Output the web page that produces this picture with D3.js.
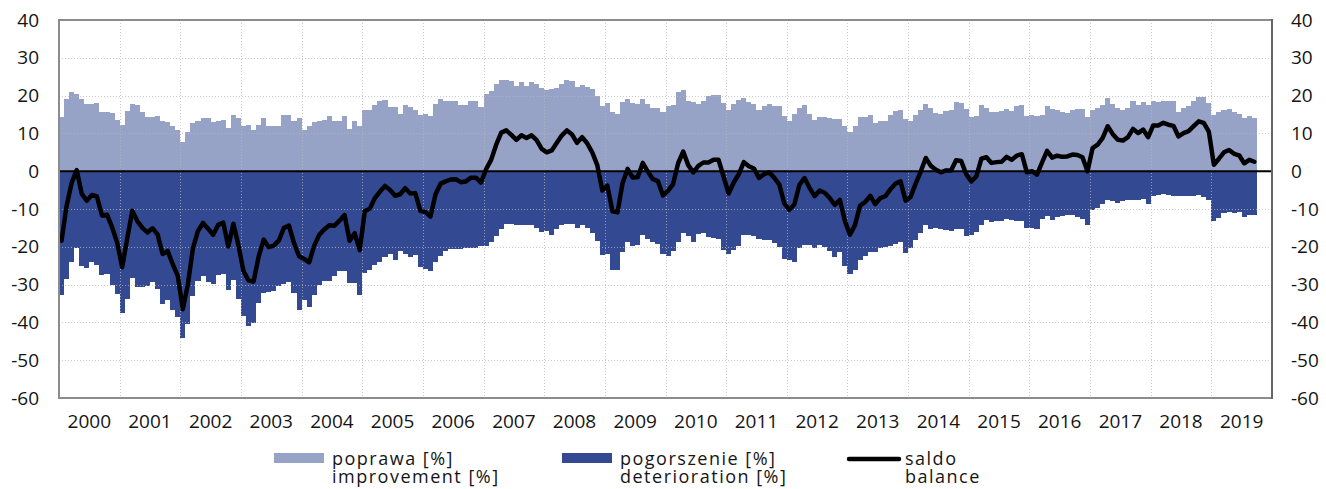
<!DOCTYPE html>
<html>
<head>
<meta charset="utf-8">
<script src="https://cdn.jsdelivr.net/npm/d3@7"></script>
<style>
  body { margin: 0; background: #fff; }
  text { font-family: 'Open Sans', sans-serif; fill: #151515; }
</style>
</head>
<body>
<div id="chart"></div>
<script>
// monthly survey, Jan 2000 - Sep 2019
var improvement = [
  14.3, 19.2, 20.9, 20.5, 19.2, 17.8, 17.8, 18.0, 15.7, 15.7, 15.4, 13.6,
  12.1, 16.0, 17.8, 17.4, 15.6, 14.3, 14.3, 14.5, 13.2, 12.9, 12.0, 11.0,
  7.6, 10.5, 12.7, 13.2, 14.1, 14.1, 13.0, 13.2, 13.6, 11.4, 14.8, 14.1,
  12.0, 12.1, 11.0, 12.3, 14.1, 11.9, 11.9, 12.0, 14.8, 14.8, 13.2, 14.1,
  10.8, 11.9, 13.0, 13.4, 13.6, 14.7, 13.2, 13.2, 14.7, 11.2, 13.2, 11.9,
  16.3, 16.3, 17.6, 18.5, 18.9, 16.9, 16.9, 15.1, 17.4, 16.9, 16.3, 14.9,
  15.1, 14.5, 17.8, 19.2, 18.5, 18.5, 18.5, 17.6, 17.6, 18.5, 18.5, 16.9,
  20.4, 21.3, 23.1, 24.2, 24.2, 23.9, 22.6, 23.6, 22.6, 23.6, 23.1, 22.0,
  21.6, 21.7, 22.0, 23.1, 24.2, 23.8, 22.3, 22.9, 22.4, 21.7, 20.0, 17.2,
  18.0, 15.6, 15.2, 18.3, 19.2, 18.0, 17.8, 19.2, 17.8, 16.7, 16.7, 15.6,
  17.2, 17.6, 20.9, 21.6, 18.7, 18.3, 17.9, 18.7, 19.8, 20.2, 20.2, 18.0,
  16.1, 17.8, 18.9, 19.4, 18.3, 17.9, 16.1, 17.3, 17.8, 17.3, 17.2, 14.7,
  13.2, 15.2, 16.7, 17.6, 15.2, 13.6, 14.3, 14.3, 14.1, 13.8, 13.8, 12.0,
  10.4, 11.9, 14.3, 14.3, 14.9, 12.7, 13.2, 13.4, 14.9, 16.0, 16.1, 13.8,
  13.4, 14.8, 16.3, 17.8, 16.7, 15.4, 15.1, 15.8, 16.1, 18.3, 18.0, 16.4,
  14.3, 14.7, 17.6, 16.7, 15.7, 15.7, 15.8, 16.4, 15.8, 17.2, 17.6, 14.7,
  15.0, 14.5, 15.0, 17.2, 16.4, 16.3, 15.6, 15.4, 16.1, 16.4, 16.4, 14.3,
  16.3, 16.7, 17.4, 19.4, 17.8, 16.7, 16.1, 16.7, 18.7, 17.6, 18.3, 17.6,
  18.7, 18.3, 18.7, 18.5, 18.5, 15.7, 16.7, 17.2, 18.5, 19.6, 19.6, 18.0,
  14.8, 15.7, 16.1, 16.5, 15.7, 15.1, 14.1, 14.5, 14.2
];

var deterioration = [
  -32.7, -28.4, -24.0, -20.2, -25.2, -25.6, -24.1, -24.7, -27.4, -27.2, -30.2, -32.5,
  -37.5, -33.8, -28.3, -30.6, -30.6, -30.5, -29.4, -31.2, -35.1, -34.0, -36.6, -38.7,
  -44.1, -40.4, -33.1, -29.0, -27.8, -29.3, -29.8, -27.4, -27.2, -31.3, -28.7, -33.7,
  -38.4, -41.0, -40.2, -34.9, -32.2, -32.0, -31.6, -30.3, -29.8, -29.2, -32.2, -36.6,
  -34.0, -36.0, -32.7, -30.2, -29.0, -29.0, -27.6, -26.3, -26.3, -29.6, -29.6, -32.8,
  -26.9, -26.2, -24.7, -23.9, -22.8, -21.9, -23.4, -21.2, -21.9, -22.8, -22.1, -25.4,
  -25.9, -26.5, -23.9, -22.5, -21.2, -20.7, -20.6, -20.5, -20.3, -20.2, -20.2, -19.9,
  -19.9, -18.8, -17.2, -15.3, -14.0, -14.0, -14.3, -14.3, -14.2, -14.2, -15.0, -16.1,
  -15.9, -17.0, -15.2, -14.3, -13.9, -14.1, -15.1, -14.2, -15.0, -16.4, -18.4, -22.3,
  -21.8, -26.2, -26.1, -21.5, -18.6, -19.7, -19.4, -17.0, -17.9, -18.8, -19.3, -22.0,
  -22.4, -21.0, -18.8, -16.4, -17.1, -18.6, -16.5, -16.4, -17.5, -17.7, -17.9, -20.8,
  -22.0, -20.8, -19.7, -17.0, -17.0, -17.2, -17.9, -18.1, -18.1, -19.0, -20.0, -23.2,
  -23.4, -24.0, -20.3, -19.4, -19.6, -20.2, -19.4, -20.0, -21.2, -22.7, -21.4, -25.2,
  -27.2, -26.1, -23.4, -22.5, -21.4, -21.4, -20.3, -20.0, -19.7, -19.3, -18.8, -21.6,
  -20.2, -18.1, -16.4, -14.3, -15.3, -15.0, -15.4, -15.6, -15.9, -15.4, -15.3, -17.2,
  -17.0, -16.1, -14.3, -13.0, -13.5, -13.3, -13.3, -12.6, -12.8, -13.1, -13.1, -15.0,
  -15.0, -15.4, -12.7, -11.8, -12.8, -12.2, -11.8, -11.5, -11.7, -12.1, -12.7, -14.3,
  -10.2, -9.7, -8.6, -7.5, -8.0, -8.4, -8.0, -7.7, -7.5, -7.5, -7.3, -8.6,
  -6.6, -6.2, -5.9, -6.2, -6.5, -6.5, -6.6, -6.6, -6.6, -6.4, -6.8, -7.5,
  -13.1, -12.4, -11.1, -10.9, -11.1, -10.9, -12.0, -11.5, -11.7
];

var balance = [
  -18.4, -9.2, -3.1, 0.3, -6.0, -7.8, -6.3, -6.7, -11.7, -11.5, -14.8, -18.9,
  -25.4, -17.8, -10.5, -13.2, -15.0, -16.2, -15.1, -16.7, -21.9, -21.1, -24.6, -27.7,
  -36.5, -29.9, -20.4, -15.8, -13.7, -15.2, -16.8, -14.2, -13.6, -19.9, -13.9, -19.6,
  -26.4, -28.9, -29.2, -22.6, -18.1, -20.1, -19.7, -18.3, -15.0, -14.4, -19.0, -22.5,
  -23.2, -24.1, -19.7, -16.8, -15.4, -14.3, -14.4, -13.1, -11.6, -18.4, -16.4, -20.9,
  -10.6, -9.9, -7.1, -5.4, -3.9, -5.0, -6.5, -6.1, -4.5, -5.9, -5.8, -10.5,
  -10.8, -12.0, -6.1, -3.3, -2.7, -2.2, -2.1, -2.9, -2.7, -1.7, -1.7, -3.0,
  0.5, 3.0, 7.0, 10.2, 10.8, 9.6, 8.3, 9.5, 8.8, 9.5, 8.2, 5.9,
  5.0, 5.5, 7.5, 9.5, 10.8, 9.7, 7.5, 9.0, 7.4, 5.0, 1.6, -5.1,
  -3.8, -10.6, -10.9, -3.2, 0.6, -1.7, -1.6, 2.2, -0.1, -2.1, -2.6, -6.4,
  -5.2, -3.4, 2.1, 5.2, 1.6, -0.3, 1.4, 2.3, 2.3, 3.0, 3.0, -1.5,
  -5.9, -3.0, -0.8, 2.4, 1.3, 0.7, -1.8, -0.8, -0.3, -1.7, -3.5, -8.5,
  -10.2, -8.8, -3.6, -1.8, -4.4, -6.6, -5.1, -5.7, -7.1, -8.9, -7.6, -13.2,
  -16.8, -14.2, -9.1, -8.2, -6.5, -8.7, -7.1, -6.6, -4.8, -3.3, -2.7, -7.8,
  -6.8, -3.3, -0.1, 3.5, 1.4, 0.4, -0.3, 0.2, 0.2, 2.9, 2.7, -0.8,
  -2.7, -1.4, 3.3, 3.7, 2.2, 2.4, 2.5, 3.8, 3.0, 4.1, 4.5, -0.3,
  0.0, -0.9, 2.3, 5.4, 3.6, 4.1, 3.8, 3.9, 4.4, 4.3, 3.7, 0.0,
  6.1, 7.0, 8.8, 11.9, 9.8, 8.3, 8.1, 9.0, 11.2, 10.1, 11.0, 9.0,
  12.1, 12.1, 12.8, 12.3, 12.0, 9.2, 10.1, 10.6, 11.9, 13.2, 12.8, 10.5,
  1.7, 3.3, 5.0, 5.6, 4.6, 4.2, 2.1, 3.0, 2.5
];

var years = d3.range(2000, 2020);
var yTicks = [40, 30, 20, 10, 0, -10, -20, -30, -40, -50, -60];
var legendItems = [
  { pl: 'poprawa [%]', en: 'improvement [%]', kind: 'light' },
  { pl: 'pogorszenie [%]', en: 'deterioration [%]', kind: 'dark' },
  { pl: 'saldo', en: 'balance', kind: 'line' }
];

var svgWidth = 1326;
var svgHeight = 489;
var plot = { left: 59, right: 1272, top: 20, bottom: 398 };
var lightBlue = '#97a2c7';
var darkBlue = '#334a93';

var svg = d3.select('#chart')
  .append('svg')
  .attr('width', svgWidth)
  .attr('height', svgHeight);

// x is months since Jan 2000, 20 full years on the axis
var xScale = d3.scaleLinear().domain([0, years.length * 12]).range([plot.left, plot.right]);
var yScale = d3.scaleLinear().domain([-60, 40]).range([plot.bottom, plot.top]);

var months = d3.range(improvement.length);

// bars, snapped to whole pixels so neighbours touch without seams
var barX = d => Math.round(xScale(d));
var barW = d => Math.round(xScale(d + 1)) - Math.round(xScale(d));

svg.append('g').attr('shape-rendering', 'crispEdges').selectAll('rect')
  .data(months)
  .enter()
  .append('rect')
  .attr('x', barX)
  .attr('width', barW)
  .attr('y', d => yScale(improvement[d]))
  .attr('height', d => yScale(0) - yScale(improvement[d]))
  .attr('fill', lightBlue);

svg.append('g').attr('shape-rendering', 'crispEdges').selectAll('rect')
  .data(months)
  .enter()
  .append('rect')
  .attr('x', barX)
  .attr('width', barW)
  .attr('y', yScale(0))
  .attr('height', d => yScale(deterioration[d]) - yScale(0))
  .attr('fill', darkBlue);

// dotted grid on top of the bars
var grid = svg.append('g')
  .attr('stroke', '#b8b8b8')
  .attr('stroke-opacity', 0.75)
  .attr('stroke-width', 1)
  .attr('stroke-dasharray', '1,2');

grid.selectAll('.hgrid')
  .data(yTicks.filter(t => t !== 40 && t !== -60 && t !== 0))
  .enter()
  .append('line')
  .attr('x1', plot.left)
  .attr('x2', plot.right)
  .attr('y1', d => Math.round(yScale(d)) + 0.5)
  .attr('y2', d => Math.round(yScale(d)) + 0.5);

grid.selectAll('.vgrid')
  .data(years.slice(1))
  .enter()
  .append('line')
  .attr('x1', d => Math.round(xScale((d - 2000) * 12)) + 0.5)
  .attr('x2', d => Math.round(xScale((d - 2000) * 12)) + 0.5)
  .attr('y1', plot.top)
  .attr('y2', plot.bottom);

// zero line
svg.append('line')
  .attr('x1', plot.left)
  .attr('x2', plot.right)
  .attr('y1', yScale(0))
  .attr('y2', yScale(0))
  .attr('stroke', '#000')
  .attr('stroke-width', 2);

// balance line
var line = d3.line()
  .x(d => xScale(d + 0.5))
  .y(d => yScale(balance[d]));

svg.append('path')
  .datum(months)
  .attr('d', line)
  .attr('fill', 'none')
  .attr('stroke', '#000')
  .attr('stroke-width', 4.5)
  .attr('stroke-linejoin', 'round')
  .attr('stroke-linecap', 'round');

// frame
svg.append('rect')
  .attr('x', plot.left)
  .attr('y', plot.top)
  .attr('width', plot.right - plot.left)
  .attr('height', plot.bottom - plot.top)
  .attr('fill', 'none')
  .attr('stroke', '#8c8c8c')
  .attr('stroke-width', 2);

svg.append('line')
  .attr('x1', plot.right).attr('x2', plot.right)
  .attr('y1', plot.top - 1).attr('y2', plot.bottom + 1)
  .attr('stroke', '#666')
  .attr('stroke-width', 2);

// y labels, both sides
svg.append('g').selectAll('text')
  .data(yTicks)
  .enter()
  .append('text')
  .attr('x', 39)
  .attr('y', d => yScale(d))
  .attr('dy', '0.35em')
  .attr('text-anchor', 'end')
  .attr('font-size', '19px')
  .text(d => d);

svg.append('g').selectAll('text')
  .data(yTicks)
  .enter()
  .append('text')
  .attr('x', 1291)
  .attr('y', d => yScale(d))
  .attr('dy', '0.35em')
  .attr('text-anchor', 'start')
  .attr('font-size', '19px')
  .text(d => d);

// year labels
svg.append('g').selectAll('text')
  .data(years)
  .enter()
  .append('text')
  .attr('x', d => xScale((d - 2000) * 12 + 6))
  .attr('y', 428)
  .attr('text-anchor', 'middle')
  .attr('font-size', '19px')
  .text(d => d);

// legend
var legendX = [274, 562, 848];
var legend = svg.append('g');

legendItems.forEach(function(item, i) {
  var g = legend.append('g').attr('transform', `translate(${legendX[i]}, 0)`);
  var tx = item.kind === 'line' ? 57 : 58;
  if (item.kind === 'line') {
    g.append('line')
      .attr('x1', 1).attr('x2', 51)
      .attr('y1', 459).attr('y2', 459)
      .attr('stroke', '#000')
      .attr('stroke-width', 4.5)
      .attr('stroke-linecap', 'round');
  } else {
    g.append('rect')
      .attr('x', 0).attr('y', 453)
      .attr('width', 50).attr('height', 10)
      .attr('fill', item.kind === 'light' ? lightBlue : darkBlue);
  }
  var t = g.append('text')
    .attr('x', tx)
    .attr('font-size', '18px')
    .attr('letter-spacing', '1.5px');
  t.append('tspan').attr('x', tx).attr('y', 465).text(item.pl);
  t.append('tspan').attr('x', tx).attr('y', 483).text(item.en);
});
</script>
</body>
</html>
